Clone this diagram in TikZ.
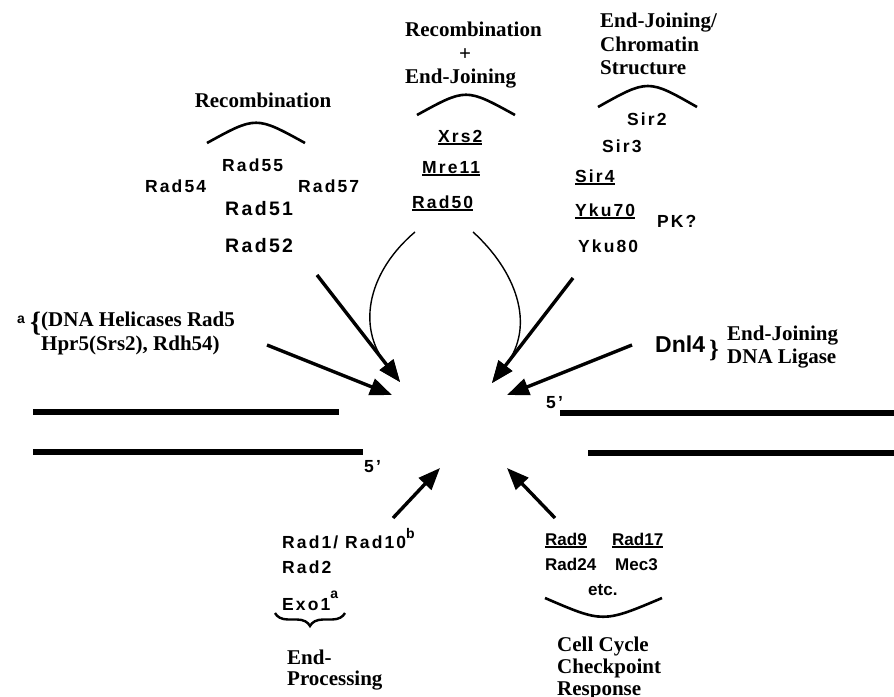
\documentclass[tikz,border=0pt]{standalone}
\usepackage{fontspec}
\setmainfont{Liberation Serif}
\setsansfont{Liberation Sans}
\usetikzlibrary{arrows.meta,decorations.pathreplacing}
\newcommand\ulbox[1]{\setbox0\hbox{#1}\rlap{\rule[-2.6pt]{\wd0}{1.3pt}}\box0}
\newcommand\protfont{\sffamily\bfseries\addfontfeature{LetterSpace=12}}
\tikzset{
  title/.style={font=\fontsize{21}{23.5}\selectfont\rmfamily\bfseries,inner sep=0pt},
  prot/.style={font=\fontsize{17.5}{20}\selectfont\protfont,inner sep=0pt,anchor=base west},
  bigprot/.style={prot,font=\fontsize{19.5}{22}\selectfont\protfont},
  plainprot/.style={font=\fontsize{17}{20}\selectfont\sffamily\bfseries,inner sep=0pt,anchor=base west},
  supl/.style={font=\fontsize{14}{14}\selectfont\sffamily\bfseries,inner sep=0pt,anchor=base west},
  bigarrow/.style={line width=3.4pt,-{Triangle[length=22pt,width=17pt]}},
  thinarrow/.style={line width=1.4pt,-{Triangle[length=22pt,width=17pt]}},
  arcline/.style={line width=2.6pt},
  strand/.style={line width=6pt}
}
\begin{document}
\begin{tikzpicture}[x=1pt,y=-1pt]
\useasboundingbox (0,0) rectangle (894,696);

\node [title,anchor=base] (recA) at (263,107) {Recombination};
\draw [arcline] (207,143) .. controls (256,116) .. (305,143);
\node [prot] (rad55) at (222,171) {Rad55};
\node [prot] (rad54) at (145,192) {Rad54};
\node [prot] (rad57) at (298,192) {Rad57};
\node [bigprot] (rad51) at (225,215) {Rad51};
\node [bigprot] (rad52) at (225,252) {Rad52};

\node [title,anchor=north west,align=left] (recB) at (405,22) {Recombination\\\hspace*{54pt}+\\End-Joining};
\draw [arcline] (417,115) .. controls (466,88) .. (515,115);
\node [prot] (xrs2) at (438,142) {\ulbox{Xrs2}};
\node [prot] (mre11) at (422,173) {\ulbox{Mre11}};
\node [prot] (rad50) at (412,208) {\ulbox{Rad50}};

\node [title,anchor=north west,align=left] (ejcs) at (600,13) {End-Joining/\\Chromatin\\Structure};
\draw [arcline] (598,107) .. controls (648,79) .. (697,107);
\node [prot] (sir2) at (627,125) {Sir2};
\node [prot] (sir3) at (602,152) {Sir3};
\node [prot] (sir4) at (575,182) {\ulbox{Sir4}};
\node [prot] (yku70) at (575,216) {\ulbox{Yku70}};
\node [prot] (pk) at (657,227) {PK?};
\node [prot] (yku80) at (578,252) {Yku80};

\node [supl] (fna) at (17,323) {a};
\node [title,anchor=base west,font=\fontsize{28}{28}\selectfont\rmfamily\bfseries] (bracel) at (30,331) {\{};
\node [title,anchor=north west,align=left,font=\fontsize{21}{24}\selectfont\rmfamily\bfseries] (helic) at (41,312) {(DNA Helicases Rad5\\Hpr5(Srs2), Rdh54)};

\node [plainprot,font=\fontsize{23}{23}\selectfont\sffamily\bfseries] (dnl4) at (655,352) {Dnl4};
\node [title,anchor=base west,font=\fontsize{25}{25}\selectfont\rmfamily\bfseries] (bracer) at (709,357) {\}};
\node [title,anchor=north west,align=left,font=\fontsize{21}{23}\selectfont\rmfamily\bfseries] (ligase) at (727,326) {End-Joining\\DNA Ligase};

\draw [strand] (33,412) -- (339,412);
\draw [strand] (33,452) -- (363,452);
\draw [strand] (560,413) -- (894,413);
\draw [strand] (588,453) -- (894,453);
\node [prot] (fivel) at (364,472) {5'};
\node [prot] (fiver) at (546,408) {5'};

\node [prot] (rad110) at (282,548) {Rad1/ Rad10\raisebox{10pt}{\fontsize{14}{14}\selectfont\sffamily\bfseries b}};
\node [prot] (rad2) at (282,573) {Rad2};
\node [prot] (exo1) at (282,610) {Exo1\raisebox{12pt}{\fontsize{14}{14}\selectfont\sffamily\bfseries a}};
\draw [line width=2.4pt,decorate,decoration={brace,amplitude=13pt}] (345,613) -- (275,613);
\node [title,anchor=north west,align=left,font=\fontsize{21}{21}\selectfont\rmfamily\bfseries] (endproc) at (287,650) {End-\\Processing};

\node [plainprot] (rad9) at (545,545) {\ulbox{Rad9}};
\node [plainprot] (rad17) at (612,545) {\ulbox{Rad17}};
\node [plainprot] (rad24) at (545,570) {Rad24};
\node [plainprot] (mec3) at (615,570) {Mec3};
\node [plainprot] (etc) at (588,595) {etc.};
\draw [arcline] (545,598) .. controls (603,623) .. (662,598);
\node [title,anchor=north west,align=left,font=\fontsize{21}{22}\selectfont\rmfamily\bfseries] (checkp) at (557,637) {Cell Cycle\\Checkpoint\\Response};

\coordinate (tipA) at (400,382);
\coordinate (tipB) at (392,395);
\coordinate (tipC) at (492,383);
\coordinate (tipD) at (507,395);
\coordinate (tipE) at (440,468);
\coordinate (tipF) at (507,468);
\coordinate (fromrec) at (317,275);
\coordinate (fromhel) at (267,345);
\coordinate (fromyku) at (573,278);
\coordinate (fromdnl) at (632,345);
\coordinate (fromrad1) at (393,518);
\coordinate (fromrad9) at (555,518);
\coordinate (fromrad50l) at (415,232);
\coordinate (fromrad50r) at (473,232);

\draw [bigarrow] (fromrec) -- (tipA);
\draw [bigarrow] (fromhel) -- (tipB);
\draw [bigarrow] (fromyku) -- (tipC);
\draw [bigarrow] (fromdnl) -- (tipD);
\draw [bigarrow] (fromrad1) -- (tipE);
\draw [bigarrow] (fromrad9) -- (tipF);
\draw [thinarrow] (fromrad50l) .. controls (370,270) and (355,325) .. (tipA);
\draw [thinarrow] (fromrad50r) .. controls (515,270) and (537,325) .. (tipC);
\end{tikzpicture}
\end{document}
